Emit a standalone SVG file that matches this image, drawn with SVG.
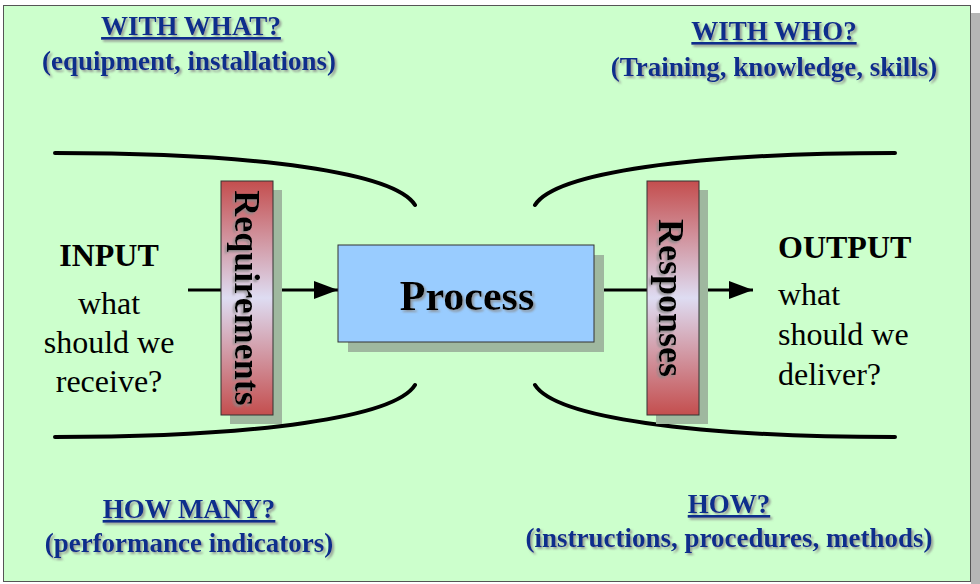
<svg xmlns="http://www.w3.org/2000/svg" width="980" height="584" viewBox="0 0 980 584">
<defs>
<style>
.q{font-family:"Liberation Serif","Times New Roman",serif;font-weight:bold;font-size:27px;fill:#0f2f8c;text-anchor:middle;filter:url(#ts)}
.u{text-decoration:underline}
.big{font-family:"Liberation Serif","Times New Roman",serif;font-size:32px;fill:#000}
.b{font-weight:bold}
.bar{font-family:"Liberation Serif","Times New Roman",serif;font-weight:bold;font-size:36px;fill:#000;text-anchor:middle;filter:url(#ts)}
.curve{fill:none;stroke:#000;stroke-width:4;stroke-linecap:round}
.conn{fill:none;stroke:#000;stroke-width:3}
.shadow{fill:#9fb89f}
</style>
<filter id="ts" x="-10%" y="-30%" width="120%" height="160%">
<feDropShadow dx="2" dy="2" stdDeviation="0.8" flood-color="#8a8a8a" flood-opacity="0.8"/>
</filter>
<linearGradient id="barg" x1="0" y1="0" x2="0" y2="1">
<stop offset="0" stop-color="#c44e4e"/>
<stop offset="0.5" stop-color="#dedcf2"/>
<stop offset="1" stop-color="#c44e4e"/>
</linearGradient>
<marker id="ah" markerWidth="8" markerHeight="6" refX="8" refY="3" orient="auto" markerUnits="strokeWidth">
<path d="M0,0 L8,3 L0,6 Z" fill="#000"/>
</marker>
</defs>
<rect x="0" y="0" width="980" height="584" fill="#ffffff"/>
<rect x="971" y="13" width="9" height="571" fill="#b5b5b5"/>
<rect x="3.5" y="5.5" width="967" height="576" fill="#ccffcc" stroke="#555" stroke-width="1"/>

<g id="with-what">
<text class="q u" x="191" y="35">WITH WHAT?</text>
<text class="q" x="189" y="70">(equipment, installations)</text>
</g>
<g id="with-who">
<text class="q u" x="774" y="40">WITH WHO?</text>
<text class="q" x="774" y="76">(Training, knowledge, skills)</text>
</g>
<g id="how-many">
<text class="q u" x="189" y="518">HOW MANY?</text>
<text class="q" x="189" y="552">(performance indicators)</text>
</g>
<g id="how">
<text class="q u" x="729" y="513">HOW?</text>
<text class="q" x="729" y="547">(instructions, procedures, methods)</text>
</g>

<g id="funnel">
<path class="curve" d="M55,153 C260,153 395,173 415,205"/>
<path class="curve" d="M55,437 C260,437 395,417 415,385"/>
<path class="curve" d="M895,153 C690,153 555,173 535,205"/>
<path class="curve" d="M895,437 C690,437 555,417 535,385"/>
</g>

<g id="connectors">
<line class="conn" x1="188" y1="290" x2="338" y2="290" marker-end="url(#ah)"/>
<line class="conn" x1="594" y1="290" x2="753" y2="290" marker-end="url(#ah)"/>
</g>

<g id="input">
<text class="big b" x="109" y="266" text-anchor="middle">INPUT</text>
<text class="big" x="109" y="314" text-anchor="middle">what</text>
<text class="big" x="109" y="353" text-anchor="middle">should we</text>
<text class="big" x="109" y="392" text-anchor="middle">receive?</text>
</g>

<g id="requirements">
<rect class="shadow" x="230" y="190" width="52" height="234"/>
<rect x="221" y="181" width="52" height="234" fill="url(#barg)" stroke="#333" stroke-width="1"/>
<text class="bar" transform="translate(235,298) rotate(90)">Requirements</text>
</g>

<g id="process">
<rect class="shadow" x="348" y="255" width="256" height="97"/>
<rect x="338" y="245" width="256" height="97" fill="#99ccff" stroke="#333" stroke-width="1"/>
<text x="467" y="310" font-family="Liberation Serif, Times New Roman, serif" font-weight="bold" font-size="42" text-anchor="middle" fill="#000" filter="url(#ts)">Process</text>
</g>

<g id="responses">
<rect class="shadow" x="656" y="190" width="52" height="234"/>
<rect x="647" y="181" width="52" height="234" fill="url(#barg)" stroke="#333" stroke-width="1"/>
<text class="bar" transform="translate(659,298) rotate(90)">Responses</text>
</g>

<g id="output">
<text class="big b" x="778" y="258">OUTPUT</text>
<text class="big" x="778" y="305">what</text>
<text class="big" x="778" y="345">should we</text>
<text class="big" x="778" y="385">deliver?</text>
</g>
</svg>
